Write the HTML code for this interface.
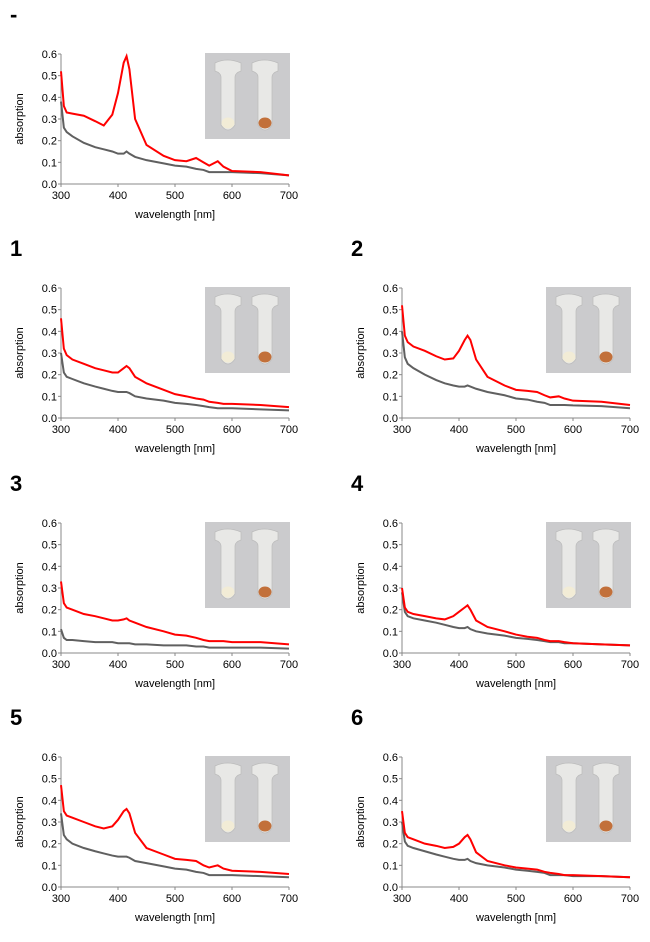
<!DOCTYPE html>
<html><head><meta charset="utf-8"><style>
body{margin:0;background:#fff;width:650px;height:942px;overflow:hidden}
svg{display:block;font-family:"Liberation Sans",Arial,sans-serif}
</style></head><body>
<svg id="fig" width="650" height="942"></svg>
<script>
const wavelengths=[300,305,310,320,340,360,375,390,400,410,415,420,430,450,480,500,520,537,550,560,575,585,600,650,700];
const yTicks=["0.0","0.1","0.2","0.3","0.4","0.5","0.6"];
const xTicks=[300,400,500,600,700];
const panelLabels=["-","1","2","3","4","5","6"];
const red0=[.52,.36,.33,.325,.315,.29,.27,.32,.42,.56,.59,.53,.30,.18,.13,.11,.105,.12,.10,.085,.105,.08,.06,.055,.04];
const grey0=[.38,.26,.24,.22,.19,.17,.16,.15,.14,.14,.15,.14,.125,.11,.095,.085,.08,.07,.065,.055,.055,.055,.055,.05,.04];
const red1=[.46,.32,.29,.27,.25,.23,.22,.21,.21,.23,.24,.23,.19,.16,.13,.11,.10,.09,.085,.075,.07,.065,.065,.06,.05];
const grey1=[.30,.21,.19,.18,.16,.145,.135,.125,.12,.12,.12,.115,.10,.09,.08,.07,.065,.06,.055,.05,.045,.045,.045,.04,.035];
const red2=[.52,.38,.35,.33,.31,.285,.27,.275,.31,.36,.38,.36,.27,.19,.15,.13,.125,.12,.105,.095,.10,.09,.08,.075,.06];
const grey2=[.40,.28,.25,.23,.20,.175,.16,.15,.145,.145,.15,.145,.135,.12,.105,.09,.085,.075,.07,.06,.06,.06,.058,.055,.045];
const red3=[.33,.23,.21,.20,.18,.17,.16,.15,.15,.155,.16,.15,.14,.12,.10,.085,.08,.07,.06,.055,.055,.055,.05,.05,.04];
const grey3=[.11,.07,.06,.06,.055,.05,.05,.05,.045,.045,.045,.045,.04,.04,.035,.035,.035,.03,.03,.025,.025,.025,.025,.025,.02];
const red4=[.30,.21,.19,.18,.17,.16,.155,.17,.19,.21,.22,.20,.15,.12,.10,.085,.075,.07,.06,.055,.055,.05,.045,.04,.035];
const grey4=[.28,.19,.17,.16,.15,.14,.13,.12,.115,.115,.12,.11,.10,.09,.08,.07,.065,.06,.055,.05,.05,.045,.045,.04,.035];
const red5=[.47,.35,.33,.32,.30,.28,.27,.28,.31,.35,.36,.34,.25,.18,.15,.13,.125,.12,.10,.09,.10,.085,.075,.07,.06];
const grey5=[.34,.24,.22,.20,.18,.165,.155,.145,.14,.14,.14,.135,.12,.11,.095,.085,.08,.07,.065,.055,.055,.055,.055,.05,.045];
const red6=[.35,.25,.23,.22,.20,.19,.18,.185,.20,.23,.24,.22,.16,.12,.10,.09,.085,.08,.07,.065,.06,.055,.055,.05,.045];
const grey6=[.30,.21,.19,.18,.165,.15,.14,.13,.125,.125,.13,.12,.11,.10,.09,.08,.075,.07,.065,.055,.055,.055,.05,.05,.045];
const reds=[red0,red1,red2,red3,red4,red5,red6];
const greys=[grey0,grey1,grey2,grey3,grey4,grey5,grey6];

const NS="http://www.w3.org/2000/svg";
const fig=document.getElementById('fig');
function mk(tag,attrs,parent,text){const e=document.createElementNS(NS,tag);for(const k in attrs)e.setAttribute(k,attrs[k]);if(text!==undefined)e.textContent=text;parent.appendChild(e);return e;}
const origins=[[61,54],[61,288],[402,288],[61,523],[402,523],[61,757],[402,757]];
const PW=228,PH=130;
origins.forEach((o,i)=>{
  const [L,T]=o;
  const g=mk('g',{},fig);
  
  
  const xs=w=>L+(w-300)/400*PW;
  const ys=v=>T+PH-(v/0.6)*PH;
  const lab=mk('text',{x:L-51,y:T-32,'font-size':22,'font-weight':'bold'},g,panelLabels[i]);
  
  
  // inset photo
  const ix=L+144,iy=T-1;
  const ph=mk('g',{},g);
  
  
  mk('rect',{x:ix,y:iy,width:85,height:86,fill:'#cbcbcd'},ph);
  [[ix+10,'#f2ecd6'],[ix+47,'#c2703a']].forEach(t=>{
    const x0=t[0];
    mk('path',{d:`M${x0} ${iy+10} q12 -6 26 0 l0 8 q-6 2 -6 6 l0 48 q-7 10 -14 0 l0 -48 q0 -4 -6 -6 z`,fill:'#e8e8e6',stroke:'#bbb','stroke-width':0.7},ph);
    mk('ellipse',{cx:x0+13,cy:iy+70,rx:6.5,ry:5.5,fill:t[1]},ph);
  });
  // axes
  const ax=mk('g',{stroke:'#888','stroke-width':1},g);
  
  
  mk('line',{x1:L,y1:T,x2:L,y2:T+PH},ax);
  mk('line',{x1:L,y1:T+PH,x2:L+PW,y2:T+PH},ax);
  yTicks.forEach(t=>{
    const y=ys(parseFloat(t));
    mk('line',{x1:L-3,y1:y,x2:L,y2:y},ax);
    const tx=mk('text',{x:L-4,y:y+4,'font-size':11,'text-anchor':'end',fill:'#000',stroke:'none'},g,t);
    
    
  });
  xTicks.forEach(t=>{
    const x=xs(t);
    mk('line',{x1:x,y1:T+PH,x2:x,y2:T+PH+3},ax);
    const tx=mk('text',{x:x,y:T+PH+15,'font-size':11,'text-anchor':'middle'},g,t);
    
    
  });
  const yt=mk('text',{x:0,y:0,'font-size':11,'text-anchor':'middle',transform:`translate(${L-38},${T+PH/2}) rotate(-90)`},g,'absorption');
  
  
  const xt=mk('text',{x:L+PW/2,y:T+PH+34,'font-size':11,'text-anchor':'middle'},g,'wavelength [nm]');
  
  
  const gp=mk('polyline',{points:wavelengths.map((w,j)=>xs(w)+','+ys(greys[i][j])).join(' '),fill:'none',stroke:'#606060','stroke-width':2},g);
  
  
  const rp=mk('polyline',{points:wavelengths.map((w,j)=>xs(w)+','+ys(reds[i][j])).join(' '),fill:'none',stroke:'#ff0000','stroke-width':2},g);
  
  
});
</script>
</body></html>
